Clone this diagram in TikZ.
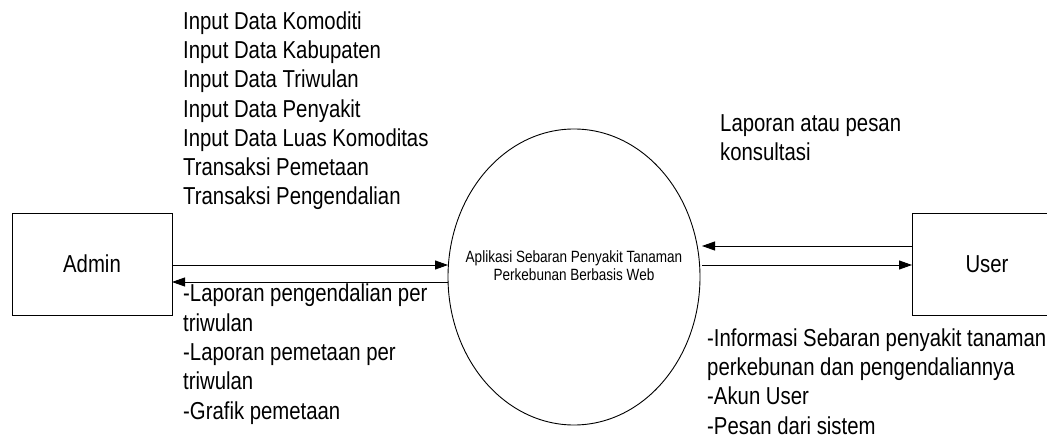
\documentclass[tikz,border=0pt]{standalone}
\usepackage{fontspec}
\setmainfont{Liberation Sans}[FakeStretch=0.83]
\usetikzlibrary{arrows.meta,shapes.geometric}
\tikzset{
  ent/.style={draw, line width=0.9pt, minimum width=160pt, minimum height=102pt, inner sep=0pt,
              font=\fontsize{24.5}{29.5}\selectfont},
  proc/.style={draw, ellipse, line width=0.9pt, minimum width=252pt, minimum height=296pt, inner sep=0pt},
  proctext/.style={inner sep=0pt, align=center, font=\fontsize{16.3}{18}\selectfont},
  lbl/.style={inner sep=0pt, anchor=base west, align=left, font=\fontsize{24.5}{29.3}\selectfont},
  flow/.style={line width=0.9pt, -{Triangle[length=13pt,width=9pt]}}
}
\begin{document}
\begin{tikzpicture}[x=1pt,y=-1pt]
\useasboundingbox (0,0) rectangle (1047,438);
\node[ent] (admin) at (92,264) {Admin};
\node[ent, minimum width=150pt] (user) at (987,264) {User};
\node[proc] (app) at (574,277) {};
\node[proctext] (apptext) at (574,266) {Aplikasi Sebaran Penyakit Tanaman\\Perkebunan Berbasis Web};
\coordinate (a1) at (172,265);
\coordinate (a2) at (448,265);
\coordinate (b1) at (448,282);
\coordinate (b2) at (172,282);
\coordinate (c1) at (912,246);
\coordinate (c2) at (702,246);
\coordinate (d1) at (702,265);
\coordinate (d2) at (912,265);
\draw[flow] (a1) -- (a2);
\draw[flow] (b1) -- (b2);
\draw[flow] (c1) -- (c2);
\draw[flow] (d1) -- (d2);
\node[lbl] (tin) at (183,205) {Input Data Komoditi\\Input Data Kabupaten\\Input Data Triwulan\\Input Data Penyakit\\Input Data Luas Komoditas\\Transaksi Pemetaan\\Transaksi Pengendalian};
\node[lbl] (tout) at (183,419) {-Laporan pengendalian per\\triwulan\\-Laporan pemetaan per\\triwulan\\-Grafik pemetaan};
\node[lbl] (uin) at (720,161) {Laporan atau pesan\\konsultasi};
\node[lbl] (uout) at (707,434) {-Informasi Sebaran penyakit tanaman\\perkebunan dan pengendaliannya\\-Akun User\\-Pesan dari sistem};
\end{tikzpicture}
\end{document}
